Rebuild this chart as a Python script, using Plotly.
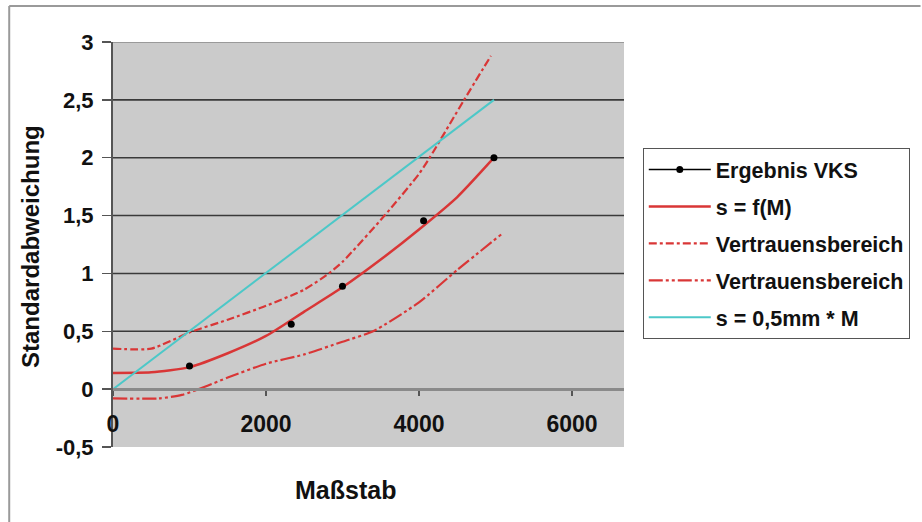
import plotly.graph_objects as go

# ---- data ----
vks_x = [1000, 2330, 3000, 4060, 4980]
vks_y = [0.20, 0.56, 0.89, 1.455, 2.0]

fit_x = [0, 500, 1000, 1500, 2000, 2500, 3000, 3500, 4000, 4500, 4980]
fit_y = [0.14, 0.145, 0.19, 0.31, 0.46, 0.67, 0.88, 1.12, 1.38, 1.66, 2.0]

upper_x = [0, 500, 1000, 1500, 2000, 2500, 2820, 3000, 3550, 4000, 4140, 4590, 4940]
upper_y = [0.35, 0.35, 0.49, 0.60, 0.72, 0.86, 1.0, 1.1, 1.5, 1.86, 2.0, 2.5, 2.88]

lower_x = [0, 600, 900, 1200, 1500, 2000, 2500, 3000, 3400, 4000, 4500, 5100]
lower_y = [-0.08, -0.08, -0.05, 0.02, 0.10, 0.22, 0.30, 0.41, 0.50, 0.75, 1.03, 1.35]

lin_x = [0, 4980]
lin_y = [0.0, 2.5]

x_ticks = [0, 2000, 4000, 6000]
x_tick_labels = ["0", "2000", "4000", "6000"]
y_ticks = [-0.5, 0, 0.5, 1, 1.5, 2, 2.5, 3]
y_tick_labels = ["-0,5", "0", "0,5", "1", "1,5", "2", "2,5", "3"]
grid_vals = [0.5, 1, 1.5, 2, 2.5]

series_names = ["Ergebnis VKS", "s = f(M)", "Vertrauensbereich", "Vertrauensbereich", "s = 0,5mm * M"]
x_title = "Maßstab"
y_title = "Standardabweichung"

# ---- styling ----
RED = "#d93636"
CYAN = "#4cc8c8"
FONT = dict(family="Arial, Liberation Sans, sans-serif", color="#111111", weight=700)
X_MAX = 6680
Y_MIN, Y_MAX = -0.5, 3

W, H = 922, 522
PL, PR, PT, PB = 113, 630, 42, 447  # plot area in pixels


def px_x(page_x):
    return (page_x - PL) / (PR - PL)


def px_y(page_y):
    return (PB - page_y) / (PB - PT)


fig = go.Figure()

fig.add_trace(go.Scatter(x=[None], y=[None], mode="lines+markers", name=series_names[0],
                         line=dict(color="black", width=1.5),
                         marker=dict(color="black", size=7), legendgroup="g1"))
fig.add_trace(go.Scatter(x=fit_x, y=fit_y, mode="lines", name=series_names[1],
                         line=dict(color=RED, width=2.5, shape="spline", smoothing=0.6),
                         legendgroup="g2"))
fig.add_trace(go.Scatter(x=upper_x, y=upper_y, mode="lines", name=series_names[2],
                         line=dict(color=RED, width=2.2, dash="8px,3px,3px,3px",
                                   shape="spline", smoothing=0.6),
                         legendgroup="g3"))
fig.add_trace(go.Scatter(x=lower_x, y=lower_y, mode="lines", name=series_names[3],
                         line=dict(color=RED, width=2.2, dash="14px,3px,3px,3px,3px,3px",
                                   shape="spline", smoothing=0.6),
                         legendgroup="g4"))
fig.add_trace(go.Scatter(x=lin_x, y=lin_y, mode="lines", name=series_names[4],
                         line=dict(color=CYAN, width=2), legendgroup="g5"))
fig.add_trace(go.Scatter(x=vks_x, y=vks_y, mode="markers", name=series_names[0],
                         marker=dict(color="black", size=7), showlegend=False,
                         legendgroup="g1"))

shapes = []
for g in grid_vals:
    shapes.append(dict(type="line", xref="paper", yref="y", x0=0, x1=1, y0=g, y1=g,
                       line=dict(color="#3a3a3a", width=1.6), layer="below"))
shapes.append(dict(type="line", xref="paper", yref="y", x0=0, x1=1, y0=Y_MAX, y1=Y_MAX,
                   line=dict(color="#9a9a9a", width=2), layer="below"))
# outer chart frame (top and left)
shapes.append(dict(type="line", xref="paper", yref="paper",
                   x0=px_x(8), x1=px_x(930), y0=px_y(6), y1=px_y(6),
                   line=dict(color="#9a9a9a", width=2)))
shapes.append(dict(type="line", xref="paper", yref="paper",
                   x0=px_x(8), x1=px_x(8), y0=px_y(6), y1=px_y(540),
                   line=dict(color="#9a9a9a", width=2)))

annotations = [
    dict(text=x_title, xref="paper", yref="paper", x=px_x(348), y=px_y(490),
         showarrow=False, xanchor="center", yanchor="middle", font=dict(FONT, size=25)),
    dict(text=y_title, xref="paper", yref="paper", x=px_x(29), y=px_y(246),
         showarrow=False, xanchor="center", yanchor="middle", textangle=-90,
         font=dict(FONT, size=24)),
]

fig.update_layout(
    width=W, height=H,
    margin=dict(l=PL, r=W - PR, t=PT, b=H - PB),
    paper_bgcolor="white",
    plot_bgcolor="#cbcbcb",
    separators=",.",
    showlegend=True,
    legend=dict(x=px_x(649), y=px_y(148), xanchor="left", yanchor="top",
                bgcolor="white", bordercolor="#555555", borderwidth=1,
                font=dict(FONT, size=21.5), itemwidth=62, tracegroupgap=6,
                traceorder="grouped"),
    shapes=shapes,
    annotations=annotations,
    xaxis=dict(range=[0, X_MAX], tickvals=x_ticks, ticktext=x_tick_labels,
               showgrid=False, zeroline=False,
               anchor="free", position=(0 - Y_MIN) / (Y_MAX - Y_MIN),
               showline=True, linecolor="#8a8a8a", linewidth=3,
               ticks="outside", ticklen=5, tickwidth=1.5, tickcolor="#555555",
               ticklabelstandoff=8,
               tickfont=dict(FONT, size=23), fixedrange=True),
    yaxis=dict(range=[Y_MIN, Y_MAX], tickvals=y_ticks, ticktext=y_tick_labels,
               showgrid=False, zeroline=False,
               showline=True, linecolor="#555555", linewidth=2,
               ticks="outside", ticklen=9, tickwidth=1.5, tickcolor="#555555",
               ticklabelstandoff=4,
               tickfont=dict(FONT, size=22), fixedrange=True),
)

fig.write_html(
    "out.html",
    config={"displayModeBar": False, "staticPlot": True},
    post_script="document.body.style.margin='0';document.body.style.overflow='hidden';",
)
